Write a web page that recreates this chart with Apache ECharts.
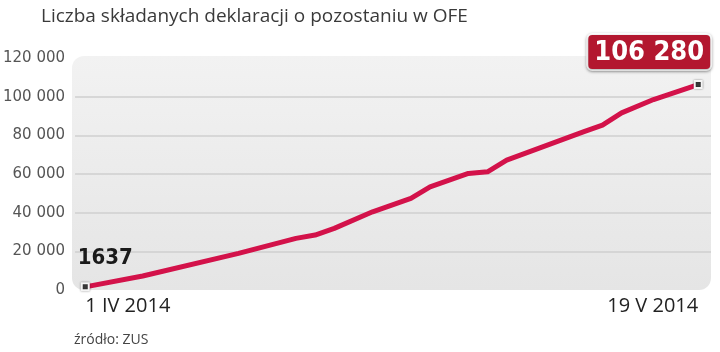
<!DOCTYPE html>
<html><head><meta charset="utf-8">
<style>html,body{margin:0;padding:0;background:#fff}#c{width:720px;height:352px}</style>
<script src="https://cdn.jsdelivr.net/npm/echarts@6/dist/echarts.min.js"></script>
</head><body><div id="c"></div>
<script>
// Days since 1 IV 2014 and number of declarations
var days   = [0, 4.5, 12, 13.5, 16.5, 18, 19.5, 22.5, 25.5, 27, 30, 31.5, 33, 39, 40.5, 42, 44.5, 48];
var values = [1637, 7230, 18960, 21540, 26710, 28410, 31870, 40450, 47370, 53370, 60290, 61110, 67160, 81780, 85240, 91600, 98520, 106280];
var xTickDays   = [0, 48];
var xTickLabels = ['1 IV 2014', '19 V 2014'];
var yTicks      = [0, 20000, 40000, 60000, 80000, 100000, 120000];
var yTickLabels = ['0', '20 000', '40 000', '60 000', '80 000', '100 000', '120 000'];
var titleText  = 'Liczba składanych deklaracji o pozostaniu w OFE';
var sourceText = 'źródło: ZUS';

var COND = '"DejaVu Sans Condensed", "Roboto Condensed", "Liberation Sans Narrow", Roboto, sans-serif';
var G = {left: 72, top: 58, right: 9, bottom: 62};
var chart = echarts.init(document.getElementById('c'), null, {renderer: 'canvas'});
var last = days.length - 1;
var data = days.map(function (d, i) {
  var item = {value: [d, values[i]]};
  if (i === 0) {
    item.symbol = 'rect';
    item.label = {show: true, position: 'top', distance: 13, offset: [20, 0],
      formatter: function (p) { return String(p.value[1]); },
      fontFamily: COND, fontWeight: 'bold', fontSize: 22, color: '#1a1a1a'};
  } else if (i === last) {
    item.symbol = 'rect';
    item.label = {show: true, position: 'top', distance: 11, offset: [-49, 0],
      formatter: function (p) { return String(p.value[1]).replace(/\B(?=(\d{3})+(?!\d))/g, ' '); },
      fontFamily: COND, fontWeight: 'bold', fontSize: 27, color: '#fff',
      backgroundColor: '#b3172f', borderColor: '#ffffff', borderWidth: 2, borderRadius: 4,
      padding: [4, 6, 3, 6], shadowColor: 'rgba(0,0,0,0.35)', shadowBlur: 3, shadowOffsetY: 1};
  } else {
    item.symbol = 'none';
  }
  return item;
});

chart.setOption({
  animation: false,
  title: [
    {text: titleText, left: 36, top: 2, textStyle: {fontFamily: 'Open Sans', fontWeight: 'normal', fontSize: 19, color: '#3a3a3a'}},
    {text: sourceText, left: 69, top: 328, textStyle: {fontFamily: 'Open Sans', fontWeight: 'normal', fontSize: 14, color: '#444'}}
  ],
  graphic: [{
    type: 'rect', z: -10, silent: true,
    shape: {x: G.left, y: G.top - 2, width: 720 - G.left - G.right, height: 352 - G.top - G.bottom + 2, r: 12},
    style: {fill: new echarts.graphic.LinearGradient(0, 0, 0, 1, [{offset: 0, color: '#f2f2f2'}, {offset: 1, color: '#e5e5e5'}])}
  }],
  grid: {left: G.left, top: G.top, right: G.right, bottom: G.bottom},
  xAxis: {
    type: 'value', min: -0.8, max: 49,
    axisLine: {show: false}, axisTick: {show: false}, splitLine: {show: false},
    axisLabel: {
      customValues: xTickDays, margin: 6,
      alignMinLabel: 'left', alignMaxLabel: 'right',
      formatter: function (v) { var k = xTickDays.indexOf(v); return k >= 0 ? xTickLabels[k] : ''; },
      fontFamily: 'Open Sans', fontSize: 20, color: '#222'
    }
  },
  yAxis: {
    type: 'value', min: 0, max: 120000, interval: 20000,
    axisLine: {show: false}, axisTick: {show: false},
    splitLine: {show: true, showMinLine: false, showMaxLine: false, lineStyle: {color: '#cfcfcf', width: 1.5}},
    axisLabel: {
      margin: 10,
      formatter: function (v) { var k = yTicks.indexOf(v); return k >= 0 ? yTickLabels[k] : ''; },
      fontFamily: 'DejaVu Sans', fontSize: 15, color: '#555'
    }
  },
  series: [{
    type: 'line', data: data, symbolSize: 7, showAllSymbol: true,
    lineStyle: {color: '#d3124a', width: 5, cap: 'round', join: 'round'},
    itemStyle: {color: '#3a3a3a', borderColor: '#f5f5f5', borderWidth: 2, shadowColor: 'rgba(0,0,0,0.4)', shadowBlur: 2},
    z: 3
  }]
});
</script></body></html>
